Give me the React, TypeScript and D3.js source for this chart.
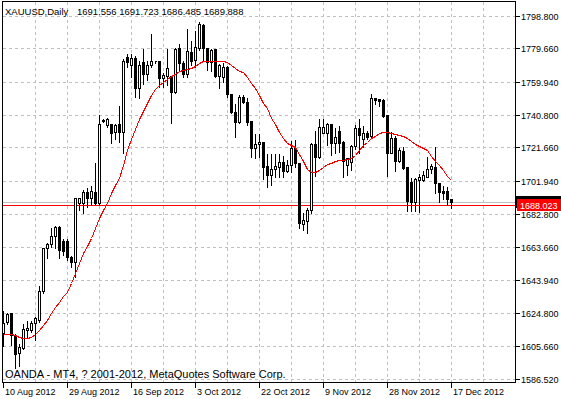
import * as d3 from 'd3'

// XAUUSD daily bars, 10 Aug 2012 .. 17 Dec 2012
const opens = [
  1613.2, 1620.0, 1624.9, 1612.3, 1601.5, 1604.5, 1615.2, 1615.2, 1619.1, 1621.0,
  1638.0, 1663.0, 1665.3, 1670.2, 1675.2, 1667.2, 1667.2, 1658.0, 1655.1, 1689.6,
  1689.6, 1696.1, 1692.2, 1696.1, 1689.3, 1737.6, 1735.1, 1735.5, 1730.8, 1735.5,
  1731.1, 1774.7, 1770.2, 1774.2, 1756.5, 1771.9, 1764.6, 1769.9, 1772.3, 1772.2,
  1762.4, 1763.5, 1763.7, 1754.5, 1779.9, 1771.1, 1764.6, 1777.9, 1772.8, 1779.9,
  1793.5, 1779.9, 1772.1, 1779.3, 1764.0, 1763.3, 1769.2, 1752.9, 1742.7, 1737.0,
  1751.3, 1748.7, 1737.6, 1721.4, 1723.9, 1725.3, 1711.1, 1705.8, 1709.2, 1710.5,
  1713.6, 1708.3, 1711.7, 1721.4, 1712.7, 1676.9, 1679.2, 1685.4, 1723.9, 1716.5,
  1730.6, 1730.6, 1735.6, 1724.4, 1731.6, 1725.3, 1711.7, 1713.6, 1722.8, 1733.3,
  1726.7, 1730.6, 1728.9, 1750.7, 1750.3, 1749.7, 1740.9, 1718.9, 1727.3, 1714.2,
  1720.0, 1710.3, 1701.9, 1690.2, 1703.1, 1702.9, 1704.9, 1709.2, 1710.5, 1701.0,
  1696.6, 1696.2, 1691.556,
]
const highs = [
  1626.9, 1625.7, 1625.9, 1613.2, 1607.6, 1619.4, 1621.0, 1621.0, 1623.4, 1641.5,
  1663.9, 1666.8, 1675.6, 1676.6, 1676.6, 1668.8, 1668.8, 1659.0, 1693.1, 1693.1,
  1697.6, 1699.0, 1700.0, 1713.6, 1741.5, 1739.2, 1739.6, 1736.2, 1736.1, 1746.8,
  1774.2, 1777.2, 1777.0, 1776.0, 1773.1, 1779.8, 1773.1, 1788.7, 1772.8, 1772.5,
  1766.2, 1779.9, 1764.3, 1780.7, 1783.2, 1773.1, 1791.6, 1784.8, 1790.6, 1796.1,
  1794.9, 1780.9, 1779.9, 1779.9, 1771.5, 1772.1, 1770.2, 1753.8, 1747.8, 1753.2,
  1753.2, 1751.6, 1738.0, 1730.4, 1730.2, 1725.6, 1718.7, 1718.5, 1718.5, 1718.5,
  1717.5, 1715.0, 1726.3, 1726.7, 1713.6, 1684.4, 1687.3, 1725.3, 1732.1, 1739.0,
  1739.0, 1737.0, 1736.1, 1734.1, 1735.1, 1726.3, 1716.5, 1723.9, 1735.6, 1739.2,
  1735.1, 1732.1, 1754.0, 1751.6, 1750.7, 1750.7, 1741.3, 1731.6, 1729.2, 1722.0,
  1722.8, 1710.7, 1704.5, 1704.5, 1706.8, 1708.7, 1717.2, 1712.8, 1722.5, 1701.9,
  1700.0, 1699.4, 1691.723,
]
const lows = [
  1606.0, 1618.7, 1606.4, 1593.0, 1594.1, 1604.0, 1611.1, 1614.0, 1609.3, 1619.9,
  1636.8, 1657.1, 1663.9, 1663.0, 1657.1, 1659.0, 1656.1, 1651.8, 1646.3, 1685.4,
  1683.4, 1687.3, 1688.3, 1688.7, 1688.3, 1736.8, 1734.1, 1724.7, 1726.7, 1725.3,
  1718.5, 1769.2, 1763.3, 1751.6, 1750.8, 1759.0, 1761.4, 1769.0, 1771.6, 1757.5,
  1757.5, 1758.5, 1736.1, 1753.6, 1766.6, 1763.4, 1763.4, 1770.2, 1769.0, 1778.9,
  1773.1, 1767.2, 1766.8, 1763.3, 1756.5, 1760.4, 1751.6, 1741.9, 1728.2, 1736.1,
  1747.8, 1735.1, 1716.5, 1715.8, 1716.5, 1703.5, 1698.6, 1700.0, 1704.8, 1704.8,
  1704.8, 1707.8, 1707.8, 1710.7, 1674.7, 1673.7, 1672.1, 1683.4, 1705.2, 1715.6,
  1730.2, 1723.4, 1717.5, 1718.5, 1719.3, 1704.5, 1705.8, 1708.7, 1721.0, 1718.7,
  1722.2, 1726.9, 1728.2, 1747.2, 1746.2, 1739.7, 1705.2, 1718.5, 1708.3, 1713.6,
  1709.2, 1684.8, 1684.8, 1684.6, 1683.9, 1702.6, 1704.4, 1706.8, 1695.3, 1690.2,
  1691.6, 1688.3, 1686.485,
]
const closes = [
  1619.4, 1624.4, 1612.3, 1601.1, 1605.4, 1615.6, 1616.3, 1619.1, 1622.4, 1638.0,
  1663.0, 1665.3, 1670.2, 1675.2, 1662.0, 1661.4, 1658.0, 1655.1, 1692.2, 1692.2,
  1696.1, 1692.2, 1696.5, 1689.3, 1735.5, 1738.0, 1738.6, 1730.6, 1735.1, 1731.1,
  1772.7, 1772.1, 1774.2, 1756.5, 1770.2, 1764.6, 1770.2, 1772.5, 1772.4, 1762.4,
  1764.3, 1768.1, 1754.5, 1779.3, 1771.3, 1764.9, 1778.5, 1772.5, 1780.9, 1794.1,
  1779.9, 1772.1, 1778.9, 1764.0, 1770.2, 1769.2, 1753.2, 1742.7, 1737.0, 1751.6,
  1748.7, 1737.0, 1721.4, 1723.9, 1725.3, 1710.7, 1705.8, 1709.2, 1711.1, 1713.6,
  1708.3, 1711.7, 1721.4, 1712.7, 1677.6, 1679.5, 1685.4, 1723.9, 1716.5, 1733.7,
  1733.7, 1735.6, 1724.4, 1728.2, 1724.7, 1714.0, 1715.6, 1722.8, 1733.1, 1729.2,
  1730.6, 1728.2, 1750.7, 1749.5, 1749.3, 1740.6, 1718.9, 1727.3, 1714.2, 1720.3,
  1710.0, 1690.6, 1690.2, 1703.3, 1704.8, 1705.8, 1709.2, 1710.8, 1701.0, 1696.1,
  1695.1, 1691.5, 1689.888,
]
// moving average line (red), one value per bar
const maValues = [
  1612.7, 1612.8, 1612.8, 1612.0, 1611.1, 1610.3, 1610.5, 1611.1, 1612.8, 1615.2,
  1618.1, 1621.0, 1625.1, 1628.6, 1631.8, 1635.1, 1637.6, 1642.4, 1648.5, 1654.4,
  1660.0, 1664.3, 1669.0, 1674.8, 1680.7, 1685.1, 1689.7, 1695.3, 1700.0, 1704.1,
  1711.7, 1720.4, 1726.9, 1732.7, 1738.3, 1743.2, 1747.9, 1752.6, 1756.4, 1758.2,
  1760.2, 1762.1, 1763.6, 1764.9, 1766.5, 1767.3, 1767.9, 1768.4, 1769.7, 1771.4,
  1772.3, 1772.5, 1772.5, 1772.5, 1772.5, 1772.5, 1772.1, 1770.4, 1768.1, 1766.6,
  1765.9, 1763.1, 1759.6, 1756.7, 1752.6, 1747.9, 1744.8, 1739.2, 1735.6, 1731.0,
  1727.2, 1724.4, 1723.4, 1721.9, 1718.1, 1714.0, 1709.3, 1707.8, 1707.8, 1709.0,
  1710.5, 1712.3, 1713.1, 1713.8, 1714.3, 1714.6, 1715.0, 1715.8, 1717.5, 1720.7,
  1723.4, 1725.3, 1727.5, 1728.9, 1730.4, 1730.7, 1730.8, 1730.4, 1729.9, 1729.3,
  1728.9, 1727.5, 1725.9, 1724.2, 1722.7, 1721.4, 1720.2, 1716.9, 1714.0, 1711.4,
  1708.7, 1705.2, 1702.9,
]

const symbol = 'XAUUSD,Daily'
const yTicks = [1798.8, 1779.66, 1759.94, 1740.8, 1721.66, 1701.94, 1682.8, 1663.66, 1643.94, 1624.8, 1605.66, 1586.52]
const dateTickBars = [0, 16, 32, 48, 64, 80, 96, 112]
const dateLabels = ['10 Aug 2012', '29 Aug 2012', '16 Sep 2012', '3 Oct 2012', '22 Oct 2012', '9 Nov 2012', '28 Nov 2012', '17 Dec 2012']
const bidPrice = 1689.888
const markerPrice = 1688.023
const copyright = 'OANDA - MT4, ? 2001-2012, MetaQuotes Software Corp.'

const FONT = "'Liberation Sans', Arial, sans-serif"

export default function App() {
  const width = 561
  const height = 399
  const left = 2.5, right = 515.5, top = 1.5, bottom = 382.5

  // 4px per bar, slots past the last bar are empty chart shift space
  const x = d3.scaleLinear().domain([0, 128]).range([3.5, right])
  const y = d3.scaleLinear().domain([1586.52, 1798.8]).range([379, 16])
  const py = (v: number) => Math.round(y(v)) + 0.5

  const gridX = d3.range(8, 128, 8)

  const maLine = d3.line<number>()
    .x((_, i) => x(i))
    .y(d => Math.round(y(d)) + 0.5)

  const last = opens.length - 1

  return (
    <div style={{ position: 'absolute', left: 0, top: 0 }}>
      <svg width={width} height={height} style={{ display: 'block', background: '#fff' }}>
        {/* grid */}
        <g shapeRendering="crispEdges" stroke="#c0c0c0" strokeDasharray="3,3">
          {yTicks.map(v => (
            <line key={'h' + v} x1={left} x2={right} y1={Math.floor(y(v)) + 0.5} y2={Math.floor(y(v)) + 0.5} />
          ))}
          {gridX.map(i => (
            <line key={'v' + i} x1={x(i)} x2={x(i)} y1={top} y2={bottom} />
          ))}
        </g>

        {/* bid / marker lines */}
        <g shapeRendering="crispEdges">
          <line x1={left} x2={right} y1={py(bidPrice)} y2={py(bidPrice)} stroke="#c0c0c0" />
          <line x1={left} x2={right} y1={py(markerPrice)} y2={py(markerPrice)} stroke="#ff0000" />
        </g>

        {/* candles */}
        <g shapeRendering="crispEdges" stroke="#000">
          {opens.map((o, i) => {
            const c = closes[i]
            const xc = x(i)
            const yTop = py(Math.max(o, c))
            const yBot = py(Math.min(o, c))
            const up = c >= o
            return (
              <g key={i}>
                <line x1={xc} x2={xc} y1={py(highs[i])} y2={py(lows[i])} />
                <path
                  d={`M${xc - 1},${yTop}H${xc + 1}V${yBot}H${xc - 1}Z`}
                  fill={up ? '#fff' : '#000'}
                />
              </g>
            )
          })}
        </g>

        {/* moving average */}
        <path d={maLine(maValues) ?? ''} fill="none" stroke="#ff0000" strokeWidth={1} shapeRendering="crispEdges" />

        {/* frame */}
        <rect x={left} y={top} width={right - left} height={bottom - top} fill="none" stroke="#000" shapeRendering="crispEdges" />

        {/* price axis */}
        <g fontFamily={FONT} fontSize={9} fill="#000">
          {yTicks.map(v => (
            <g key={'t' + v}>
              <line x1={right + 0.5} x2={right + 4} y1={Math.floor(y(v)) + 0.5} y2={Math.floor(y(v)) + 0.5} stroke="#000" shapeRendering="crispEdges" />
              <text x={521} y={Math.floor(y(v)) + 4}>{v.toFixed(3)}</text>
            </g>
          ))}
        </g>

        {/* price labels: bid box sits behind the marker box */}
        <g fontFamily={FONT} fontSize={9} shapeRendering="crispEdges">
          <rect x={516} y={Math.round(y(bidPrice)) - 6} width={45} height={12} fill="#000" />
          <rect x={517} y={Math.round(y(markerPrice)) - 6} width={44} height={12} fill="#ff0000" />
          <text x={520} y={Math.round(y(markerPrice)) + 3.5} fill="#fff">{markerPrice.toFixed(3)}</text>
        </g>

        {/* time axis */}
        <g fontFamily={FONT} fontSize={9} fill="#000">
          {dateTickBars.map((b, k) => (
            <g key={'d' + b}>
              <line x1={x(b)} x2={x(b)} y1={bottom} y2={bottom + 5} stroke="#000" shapeRendering="crispEdges" />
              <text x={x(b) + 1.5} y={395}>{dateLabels[k]}</text>
            </g>
          ))}
        </g>

        {/* header and footer */}
        <g fontFamily={FONT} fill="#000">
          <text x={5} y={14.5} fontSize={9.5}>{symbol}</text>
          <text x={77} y={14.5} fontSize={9.5}>
            {[opens[last], highs[last], lows[last], closes[last]].map(v => v.toFixed(3)).join(' ')}
          </text>
          <text x={5} y={378} fontSize={11}>{copyright}</text>
        </g>
      </svg>
    </div>
  )
}
